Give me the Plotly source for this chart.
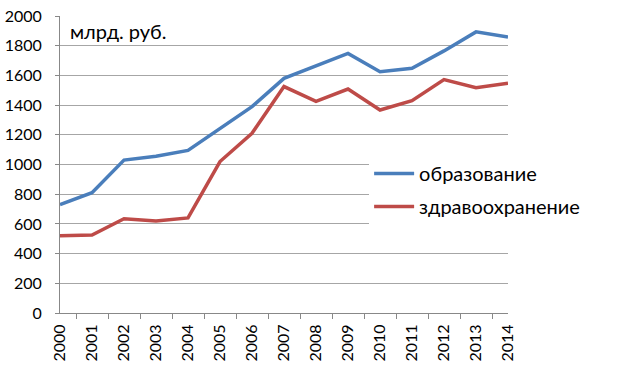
import plotly.graph_objects as go

years = [str(y) for y in range(2000, 2015)]
education = [730, 810, 1030, 1055, 1095, 1240, 1390, 1580, 1665, 1748, 1625, 1648, 1765, 1893, 1858]
health = [520, 525, 635, 620, 640, 1020, 1210, 1525, 1425, 1508, 1367, 1430, 1572, 1517, 1547]
names = ["образование", "здравоохранение"]
colors = ["#4a7ebb", "#be4b48"]
y_ticks = list(range(0, 2001, 200))

FONT = "Lato, Open Sans, sans-serif"

fig = go.Figure()
for vals, name, col in zip([education, health], names, colors):
    fig.add_trace(go.Scatter(x=years, y=vals, name=name, mode="lines", legendgroup=name,
                             line=dict(color=col, width=3.5)))

fig.update_layout(
    width=624, height=368,
    margin=dict(l=60, r=116, t=16, b=55),
    paper_bgcolor="white", plot_bgcolor="white",
    font=dict(family=FONT, size=16, color="black"),
    showlegend=True,
    legend=dict(x=0.69, y=0.535, xanchor="left", yanchor="top",
                bgcolor="white", font=dict(size=20, color="black"),
                itemwidth=40, traceorder="grouped", tracegroupgap=4),
    annotations=[dict(text="млрд. руб.", x=0.018, y=0.995, xref="paper", yref="paper",
                      xanchor="left", yanchor="top", showarrow=False,
                      font=dict(size=20, color="black"))],
)
fig.update_xaxes(type="category", tickangle=-90, tickson="boundaries",
                 ticks="outside", ticklen=5, tickcolor="#888",
                 showline=True, linecolor="#888", showgrid=False,
                 automargin=False, ticklabelstandoff=4,
                 tickfont=dict(size=16))
fig.update_yaxes(range=[0, 2000], tickvals=y_ticks, showgrid=True,
                 gridcolor="#a6a6a6", gridwidth=1,
                 showline=True, linecolor="#888", ticks="outside", ticklen=4,
                 tickcolor="#888", zeroline=False, automargin=False,
                 ticklabelstandoff=10, tickfont=dict(size=16))

fig.write_html("out.html", config={"displayModeBar": False},
               post_script="document.body.style.margin='0';")
